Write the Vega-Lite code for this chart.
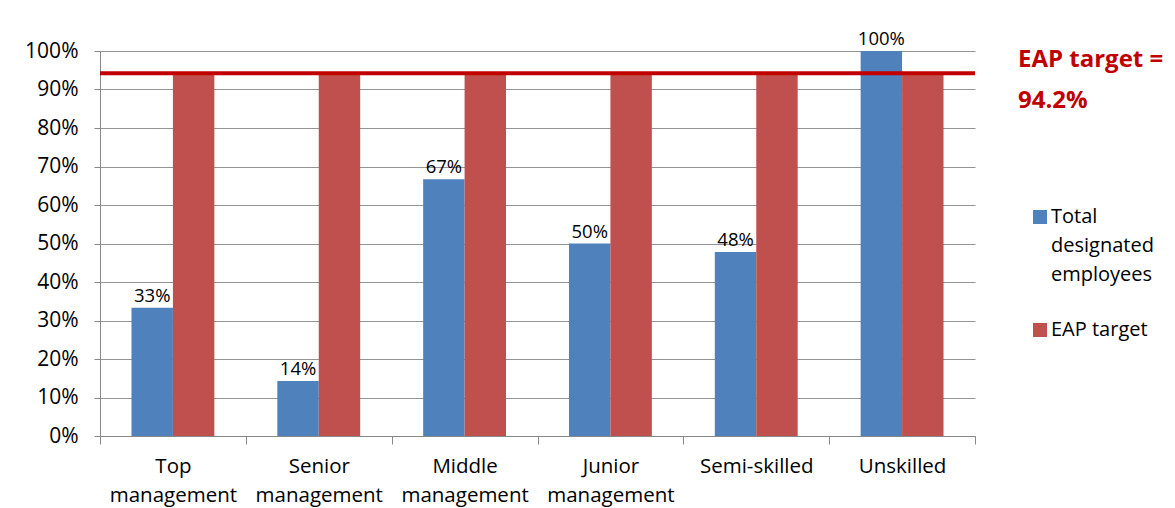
{
  "$schema": "https://vega.github.io/schema/vega-lite/v6.json",
  "autosize": "none",
  "width": 875,
  "height": 385,
  "padding": {"left": 100, "top": 51, "right": 200, "bottom": 72},
  "background": "white",
  "config": {
    "font": "Open Sans",
    "view": {"stroke": null},
    "style": {"guide-label": {"lineHeight": 29}},
    "axis": {"labelColor": "black", "domainColor": "#888888", "tickColor": "#888888", "gridColor": "#888888", "gridOpacity": 0.9}
  },
  "datasets": {
    "bars": [
      {"level": "Top management", "series": "Total designated employees", "value": 0.333},
      {"level": "Senior management", "series": "Total designated employees", "value": 0.143},
      {"level": "Middle management", "series": "Total designated employees", "value": 0.667},
      {"level": "Junior management", "series": "Total designated employees", "value": 0.5},
      {"level": "Semi-skilled", "series": "Total designated employees", "value": 0.478},
      {"level": "Unskilled", "series": "Total designated employees", "value": 1.0},
      {"level": "Top management", "series": "EAP target", "value": 0.942},
      {"level": "Senior management", "series": "EAP target", "value": 0.942},
      {"level": "Middle management", "series": "EAP target", "value": 0.942},
      {"level": "Junior management", "series": "EAP target", "value": 0.942},
      {"level": "Semi-skilled", "series": "EAP target", "value": 0.942},
      {"level": "Unskilled", "series": "EAP target", "value": 0.942}
    ],
    "target": [{"value": 0.942, "label": "EAP target =\n94.2%"}]
  },
  "encoding": {
    "y": {
      "field": "value", "type": "quantitative",
      "scale": {"domain": [0, 1], "nice": false},
      "axis": {
        "title": null, "format": ".0%", "values": [0, 0.1, 0.2, 0.3, 0.4, 0.5, 0.6, 0.7, 0.8, 0.9, 1.0],
        "tickCount": 20, "labelFontSize": 21, "tickSize": 6, "labelPadding": 16, "grid": true, "labelOverlap": false
      }
    }
  },
  "layer": [
    {
      "data": {"name": "bars"},
      "mark": {"type": "bar"},
      "encoding": {
        "x": {
          "field": "level", "type": "nominal", "sort": null,
          "scale": {"paddingInner": 0, "paddingOuter": 0},
          "axis": {
            "title": null, "labelAngle": 0, "labelFontSize": 20.5, "labelExpr": "split(datum.label, ' ')",
            "tickBand": "extent", "tickSize": 8, "labelPadding": 12, "labelBaseline": "top"
          }
        },
        "xOffset": {
          "field": "series", "type": "nominal", "sort": ["Total designated employees", "EAP target"],
          "scale": {"paddingInner": 0, "paddingOuter": 0.76}
        },
        "color": {
          "field": "series", "type": "nominal",
          "scale": {"domain": ["Total designated employees", "EAP target"], "range": ["#4F81BD", "#C0504D"]},
          "legend": {
            "title": null, "orient": "none", "legendX": 930, "legendY": 156,
            "symbolType": "square", "symbolSize": 196, "symbolStrokeWidth": 0,
            "labelFontSize": 20, "labelLimit": 300, "labelBaseline": "middle", "labelOffset": 1,
            "labelExpr": "datum.label == 'Total designated employees' ? ['Total', 'designated', 'employees'] : datum.label",
            "rowPadding": 35
          }
        }
      }
    },
    {
      "data": {"name": "bars"},
      "transform": [{"filter": "datum.series == 'Total designated employees'"}],
      "mark": {"type": "text", "baseline": "bottom", "dy": -2, "fontSize": 18.5, "color": "black"},
      "encoding": {
        "x": {"field": "level", "type": "nominal", "sort": null},
        "xOffset": {"field": "series", "type": "nominal", "sort": ["Total designated employees", "EAP target"]},
        "text": {"field": "value", "type": "quantitative", "format": ".0%"}
      }
    },
    {
      "data": {"name": "target"},
      "mark": {"type": "rule", "color": "#C00000", "strokeWidth": 4},
      "encoding": {}
    },
    {
      "data": {"name": "target"},
      "mark": {"type": "text", "align": "left", "baseline": "middle", "dx": 43, "dy": -13, "fontSize": 24, "fontWeight": "bold", "color": "#C00000", "lineBreak": "\n", "lineHeight": 41},
      "encoding": {
        "x": {"value": "width"},
        "text": {"field": "label"}
      }
    }
  ]
}
